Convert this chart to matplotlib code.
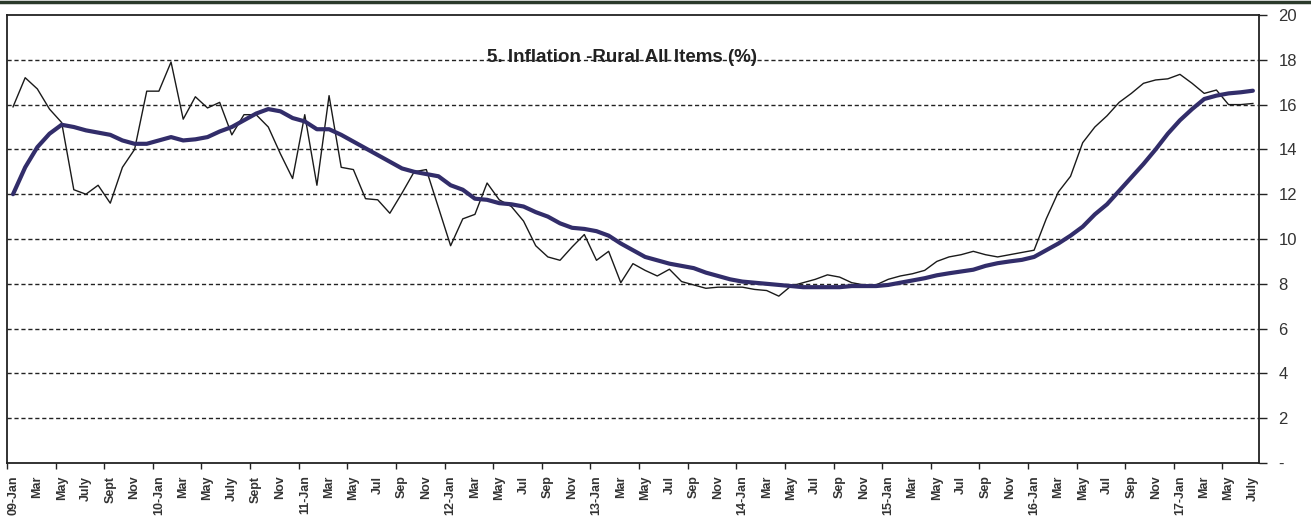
import matplotlib
matplotlib.use("Agg")
import matplotlib.pyplot as plt
import numpy as np

plt.rcParams['font.family'] = ['Liberation Sans Narrow', 'Liberation Sans', 'DejaVu Sans']

# monthly rural inflation, Jan 2009 - Jul 2017 (%)
inflation_monthly = [
    15.9, 17.2, 16.7, 15.8, 15.2, 12.2, 12.0, 12.4, 11.6, 13.2, 14.0, 16.6,
    16.6, 17.9, 15.35, 16.35, 15.85, 16.1, 14.65, 15.55, 15.55, 15.0, 13.8, 12.7,
    15.55, 12.4, 16.4, 13.2, 13.1, 11.8, 11.75, 11.15, 12.05, 13.0, 13.1, 11.4,
    9.7, 10.9, 11.1, 12.5, 11.75, 11.45, 10.8, 9.7, 9.2, 9.05, 9.65, 10.2,
    9.05, 9.45, 8.05, 8.9, 8.6, 8.35, 8.65, 8.1, 7.95, 7.8, 7.85, 7.85,
    7.85, 7.75, 7.7, 7.45, 7.9, 8.05, 8.2, 8.4, 8.3, 8.05, 7.95, 7.95,
    8.2, 8.35, 8.45, 8.6, 9.0, 9.2, 9.3, 9.45, 9.3, 9.2, 9.3, 9.4,
    9.5, 10.9, 12.1, 12.8, 14.3, 15.0, 15.5, 16.1, 16.5, 16.95, 17.1, 17.15,
    17.35, 16.95, 16.5, 16.65, 16.0, 16.0, 16.05,
]

# 12-month average
inflation_avg = [
    12.0, 13.2, 14.1, 14.7, 15.1, 15.0, 14.85, 14.75, 14.65, 14.4, 14.25, 14.25,
    14.4, 14.55, 14.4, 14.45, 14.55, 14.8, 15.0, 15.3, 15.6, 15.8, 15.7, 15.4,
    15.25, 14.9, 14.9, 14.65, 14.35, 14.05, 13.75, 13.45, 13.15, 13.0, 12.9, 12.8,
    12.4, 12.2, 11.8, 11.75, 11.6, 11.55, 11.45, 11.2, 11.0, 10.7, 10.5, 10.45,
    10.35, 10.15, 9.8, 9.5, 9.2, 9.05, 8.9, 8.8, 8.7, 8.5, 8.35, 8.2,
    8.1, 8.05, 8.0, 7.95, 7.9, 7.85, 7.85, 7.85, 7.85, 7.9, 7.9, 7.9,
    7.95, 8.05, 8.15, 8.25, 8.38, 8.47, 8.55, 8.63, 8.8, 8.92, 9.0, 9.07,
    9.2, 9.5, 9.8, 10.15, 10.55, 11.1, 11.55, 12.15, 12.75, 13.35, 14.0, 14.7,
    15.3, 15.8, 16.25, 16.4, 16.5, 16.55, 16.62,
]

# one label every second month
month_labels = [
    '09-Jan', 'Mar', 'May', 'July', 'Sept', 'Nov',
    '10-Jan', 'Mar', 'May', 'July', 'Sept', 'Nov',
    '11-Jan', 'Mar', 'May', 'Jul', 'Sep', 'Nov',
    '12-Jan', 'Mar', 'May', 'Jul', 'Sep', 'Nov',
    '13-Jan', 'Mar', 'May', 'Jul', 'Sep', 'Nov',
    '14-Jan', 'Mar', 'May', 'Jul', 'Sep', 'Nov',
    '15-Jan', 'Mar', 'May', 'Jul', 'Sep', 'Nov',
    '16-Jan', 'Mar', 'May', 'Jul', 'Sep', 'Nov',
    '17-Jan', 'Mar', 'May', 'July',
]

y_ticks = [0, 2, 4, 6, 8, 10, 12, 14, 16, 18, 20]
y_labels = ['-', '2', '4', '6', '8', '10', '12', '14', '16', '18', '20']

title = '5. Inflation -Rural All Items (%)'

x = np.arange(len(inflation_monthly))

fig = plt.figure(figsize=(13.11, 5.17), dpi=100)
ax = fig.add_axes([0.0053, 0.1044, 0.9550, 0.8666])

for v in y_ticks[1:-1]:
    ax.axhline(v, color='#222222', lw=1.0, ls=(0, (3, 2)), zorder=1)

ax.plot(x, inflation_monthly, color='#1a1a1a', lw=1.0, zorder=3)
ax.plot(x, inflation_avg, color='#322d6a', lw=3.0, zorder=4,
        solid_capstyle='round')

ax.set_xlim(-0.5, len(x) - 0.5)
ax.set_ylim(0, 20)

# labels sit on every second month, tick marks every fourth
ax.set_xticks(x[::2])
ax.set_xticklabels(month_labels, rotation=90, fontsize=9, fontweight='bold',
                   color='#333333', va='top')
ax.tick_params(axis='x', which='major', length=0, pad=9)
ax.set_xticks(np.arange(-0.5, len(x), 4), minor=True)
ax.tick_params(axis='x', which='minor', length=4, width=1, direction='out',
               color='#222222')

ax.yaxis.tick_right()
ax.set_yticks(y_ticks)
ax.set_yticklabels(y_labels, fontsize=12, color='#333333')
ax.tick_params(axis='y', length=6, width=1, direction='out', pad=8,
               color='#222222')

for side in ['left', 'right', 'top', 'bottom']:
    ax.spines[side].set_color('#222222')
    ax.spines[side].set_linewidth(1.3)

ax.text(0.491, 0.906, title, transform=ax.transAxes, ha='center', va='center',
        fontsize=13.5, fontweight='bold', color='#222222', zorder=5)

# dark rule along the top of the image
fig.add_artist(plt.Line2D([0, 1], [0.997, 0.997], transform=fig.transFigure,
                          color='#2b3a2b', lw=2.5))

fig.savefig('out.png', dpi=100)
